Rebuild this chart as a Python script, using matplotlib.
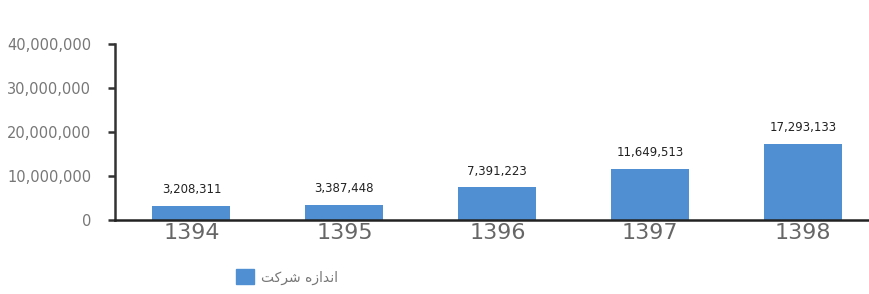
import matplotlib
matplotlib.use('Agg')
import matplotlib.pyplot as plt
from matplotlib.patches import Patch
from matplotlib.ticker import FuncFormatter

# Data
years = ['1394', '1395', '1396', '1397', '1398']
company_size = [3208311, 3387448, 7391223, 11649513, 17293133]
y_ticks = [0, 10000000, 20000000, 30000000, 40000000]
# "company size" in Persian, pre-shaped into presentation forms (visual order)
legend_label = '\uFE96\uFB90\uFEAE\uFEB7 \uFEE9\uFEAF\uFE8D\uFEAA\uFEE7\uFE8D'

bar_color = '#4f8fd2'

fig = plt.figure(figsize=(8.69, 2.94), dpi=100)
ax = fig.add_axes([115 / 869, 74 / 294, 754 / 869, 176 / 294])

x = list(range(len(years)))
bars = ax.bar(x, company_size, width=0.51, color=bar_color, zorder=2)

for xi, v in zip(x, company_size):
    ax.annotate(f'{v:,}', (xi, v), xytext=(0, 7), textcoords='offset points',
                ha='center', va='bottom', fontsize=8.5, color='#222222',
                family='DejaVu Sans')

ax.set_xlim(-0.5, 4.43)
ax.set_ylim(0, 40000000)
ax.set_yticks(y_ticks)
ax.yaxis.set_major_formatter(FuncFormatter(lambda v, p: f'{int(v):,}'))
ax.set_xticks(x)
ax.set_xticklabels(years)

for s in ['top', 'right']:
    ax.spines[s].set_visible(False)
ax.spines['left'].set_color('#333333')
ax.spines['left'].set_linewidth(1.8)
ax.spines['bottom'].set_color('#222222')
ax.spines['bottom'].set_linewidth(1.8)
ax.spines['bottom'].set_zorder(3)

ax.tick_params(axis='y', length=5, width=1.8, color='#333333', pad=12,
               labelsize=10.5, labelcolor='#777777')
ax.tick_params(axis='x', length=0, pad=2, labelsize=16, labelcolor='#666666')

handle = Patch(facecolor=bar_color, edgecolor=bar_color)
fig.legend([handle], [legend_label], loc='center left',
           bbox_to_anchor=(236 / 869, 1 - 277 / 294), frameon=False,
           borderpad=0, borderaxespad=0, handlelength=1.3, handleheight=1.3,
           handletextpad=0.5, prop={'family': 'DejaVu Sans', 'size': 10},
           labelcolor='#777777')

fig.savefig('out.png', dpi=100, facecolor='white')
